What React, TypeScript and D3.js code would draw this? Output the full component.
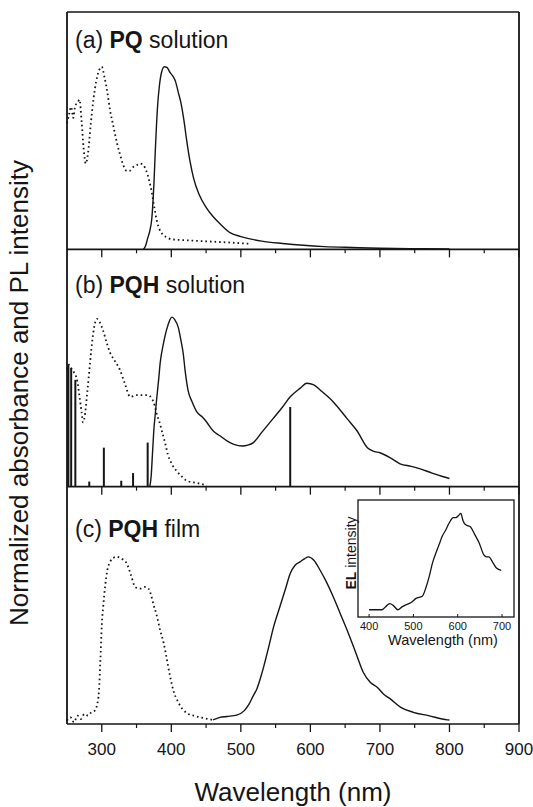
import React from "react";
import * as d3 from "d3";

type Pt = [number, number];

// ---------- data ----------
const X_DOMAIN: [number, number] = [250, 900];
const X_MAJOR = [300, 400, 500, 600, 700, 800, 900];
const X_MINOR = [350, 450, 550, 650, 750, 850];

const PANEL_LABELS: [string, string, string][] = [
  ["(a) ", "PQ", " solution"],
  ["(b) ", "PQH", " solution"],
  ["(c) ", "PQH", " film"],
];
const PANEL_YMAX = [1.3, 1.4, 1.42];

// (a) PQ solution – absorption (dotted) and PL (solid)
const absA: Pt[] = [
  [250, 0.69], [253, 0.74], [256, 0.78], [259, 0.72], [262, 0.79], [265, 0.8], [268, 0.82],
  [271, 0.7], [274, 0.55], [277, 0.47], [280, 0.52], [284, 0.68], [288, 0.82], [292, 0.92],
  [296, 0.98], [300, 1.0], [304, 0.94], [308, 0.86], [312, 0.76], [317, 0.67], [322, 0.58],
  [327, 0.51], [331, 0.46], [336, 0.43], [340, 0.43], [345, 0.45], [350, 0.46], [355, 0.47],
  [360, 0.46], [364, 0.43], [368, 0.38], [372, 0.31], [376, 0.22], [379, 0.16], [383, 0.11],
  [388, 0.08], [394, 0.065], [400, 0.055], [420, 0.05], [450, 0.044], [480, 0.038], [515, 0.03],
];
const plA: Pt[] = [
  [360, 0.0], [363, 0.02], [366, 0.06], [369, 0.1], [372, 0.17], [375, 0.36], [377, 0.54],
  [380, 0.77], [383, 0.9], [386, 0.97], [390, 1.0], [394, 0.995], [398, 0.97], [402, 0.95],
  [406, 0.92], [410, 0.86], [414, 0.8], [418, 0.71], [422, 0.6], [427, 0.48], [432, 0.39],
  [440, 0.3], [450, 0.23], [460, 0.18], [470, 0.14], [485, 0.09], [500, 0.07], [530, 0.045],
  [560, 0.032], [590, 0.022], [620, 0.015], [660, 0.01], [700, 0.006], [760, 0.003], [800, 0.002],
];

// (b) PQH solution
const absB: Pt[] = [
  [250, 0.69], [253, 0.72], [256, 0.7], [259, 0.68], [262, 0.66], [265, 0.62], [268, 0.53],
  [271, 0.44], [273, 0.38], [276, 0.43], [279, 0.55], [282, 0.68], [285, 0.81], [289, 0.94],
  [293, 0.99], [297, 0.97], [302, 0.92], [307, 0.85], [312, 0.79], [319, 0.74], [326, 0.69],
  [333, 0.61], [341, 0.53], [350, 0.54], [359, 0.54], [366, 0.54], [372, 0.52], [376, 0.48],
  [379, 0.43], [383, 0.38], [387, 0.32], [391, 0.26], [395, 0.19], [400, 0.14], [408, 0.09],
  [415, 0.06], [422, 0.035], [432, 0.025], [441, 0.018], [451, 0.008],
];
const plB: Pt[] = [
  [369, 0.0], [371, 0.06], [373, 0.2], [375, 0.34], [377, 0.43], [379, 0.52], [382, 0.64],
  [384, 0.73], [388, 0.83], [391, 0.89], [395, 0.95], [398, 0.985], [401, 1.0], [405, 0.985],
  [410, 0.94], [414, 0.86], [417, 0.79], [420, 0.68], [424, 0.57], [430, 0.5], [437, 0.44],
  [445, 0.41], [451, 0.38], [460, 0.33], [470, 0.3], [480, 0.27], [490, 0.25], [502, 0.24],
  [510, 0.245], [518, 0.26], [530, 0.32], [546, 0.4], [560, 0.47], [571, 0.53], [585, 0.58],
  [595, 0.61], [605, 0.6], [614, 0.57], [633, 0.5], [653, 0.4], [667, 0.33], [682, 0.23],
  [690, 0.21], [700, 0.2], [715, 0.17], [729, 0.135], [745, 0.12], [758, 0.105], [775, 0.08],
  [790, 0.06], [800, 0.048],
];
// calculated transitions (vertical sticks)
const sticksB: Pt[] = [
  [252, 0.72], [256, 0.7], [262, 0.63], [282, 0.03], [303, 0.23], [328, 0.035],
  [345, 0.08], [366, 0.26], [571, 0.47],
];

// (c) PQH film
const absC: Pt[] = [
  [250, 0.02], [255, 0.04], [260, 0.01], [265, 0.05], [270, 0.03], [275, 0.06], [280, 0.05],
  [285, 0.07], [290, 0.08], [293, 0.11], [296, 0.2], [298, 0.38], [300, 0.59], [302, 0.7],
  [305, 0.83], [308, 0.92], [312, 0.97], [317, 0.995], [322, 1.0], [328, 0.99], [336, 0.96],
  [342, 0.89], [348, 0.82], [355, 0.81], [362, 0.82], [367, 0.81], [371, 0.77], [374, 0.72],
  [379, 0.65], [384, 0.56], [389, 0.485], [393, 0.4], [398, 0.29], [403, 0.2], [410, 0.13],
  [422, 0.066], [434, 0.048], [446, 0.036], [460, 0.024],
];
const plC: Pt[] = [
  [460, 0.025], [470, 0.04], [480, 0.045], [495, 0.055], [505, 0.08], [512, 0.12], [518, 0.17],
  [523, 0.21], [530, 0.3], [540, 0.46], [547, 0.58], [556, 0.7], [565, 0.82], [571, 0.9],
  [578, 0.95], [585, 0.97], [592, 0.99], [597, 1.0], [605, 0.98], [614, 0.92], [623, 0.85],
  [633, 0.76], [643, 0.66], [653, 0.56], [665, 0.43], [676, 0.31], [686, 0.25], [696, 0.22],
  [705, 0.18], [715, 0.15], [730, 0.1], [748, 0.07], [770, 0.05], [797, 0.025], [800, 0.024],
];

// inset: EL spectrum
const INSET_X_DOMAIN: [number, number] = [375, 727];
const INSET_TICKS = [400, 500, 600, 700];
const elSpec: Pt[] = [
  [400, 0.07], [415, 0.07], [429, 0.07], [440, 0.11], [447, 0.13], [455, 0.11], [465, 0.07],
  [475, 0.1], [484, 0.12], [495, 0.14], [506, 0.18], [520, 0.2], [528, 0.28], [535, 0.38],
  [543, 0.52], [551, 0.62], [558, 0.7], [565, 0.78], [573, 0.84], [581, 0.91], [590, 0.96],
  [596, 0.96], [602, 0.98], [607, 1.0], [612, 0.93], [618, 0.89], [624, 0.88], [629, 0.87],
  [638, 0.8], [648, 0.72], [659, 0.6], [665, 0.58], [670, 0.58], [680, 0.52], [688, 0.47],
  [698, 0.45],
];

// ---------- layout ----------
const W = 533;
const H = 807;
const L = 67, R = 519, T = 12, B = 724;
const PH = (B - T) / 3;
const LABEL_OFFSETS = [36, 44, 50];
const FONT = "'Liberation Sans', Arial, sans-serif";
const INK = "#151515";

const panels = [
  { abs: absA, pl: plA, sticks: [] as Pt[] },
  { abs: absB, pl: plB, sticks: sticksB },
  { abs: absC, pl: plC, sticks: [] as Pt[] },
];

export default function App() {
  const x = d3.scaleLinear().domain(X_DOMAIN).range([L, R]);

  const inset = { l: 358, r: 514, t: 500, b: 617 };
  const ix = d3.scaleLinear().domain(INSET_X_DOMAIN).range([inset.l, inset.r]);
  const iy = d3.scaleLinear().domain([0, 1.13]).range([inset.b, inset.t]);
  const iline = d3
    .line<Pt>()
    .x((d) => ix(d[0]))
    .y((d) => iy(d[1]))
    .curve(d3.curveMonotoneX);

  return (
    <svg width={W} height={H} style={{ display: "block", position: "absolute", left: 0, top: 0 }}>
      <rect x={0} y={0} width={W} height={H} fill="#fff" />
      {panels.map((p, i) => {
        const top = T + i * PH;
        const bottom = top + PH;
        const y = d3.scaleLinear().domain([0, PANEL_YMAX[i]]).range([bottom, top]);
        const line = d3
          .line<Pt>()
          .x((d) => x(d[0]))
          .y((d) => y(d[1]))
          .curve(d3.curveMonotoneX);
        const lab = PANEL_LABELS[i];
        return (
          <g key={i}>
            <path d={line(p.abs) || ""} fill="none" stroke={INK} strokeWidth={1.8}
              strokeDasharray="1.6 3" />
            <path d={line(p.pl) || ""} fill="none" stroke={INK} strokeWidth={1.4} />
            {p.sticks.map((s, j) => (
              <line key={j} x1={x(s[0])} x2={x(s[0])} y1={y(0)} y2={y(s[1])}
                stroke={INK} strokeWidth={2} />
            ))}
            <text x={75} y={top + LABEL_OFFSETS[i]} fontFamily={FONT} fontSize={23} fill={INK}>
              {lab[0]}
              <tspan fontWeight="bold">{lab[1]}</tspan>
              {lab[2]}
            </text>
            {/* bottom axis of panel */}
            <line x1={L} x2={R} y1={bottom} y2={bottom} stroke={INK} strokeWidth={1.6} />
            {X_MAJOR.map((t) => (
              <line key={"M" + t} x1={x(t)} x2={x(t)} y1={bottom} y2={bottom + 8}
                stroke={INK} strokeWidth={1.3} />
            ))}
            {X_MINOR.map((t) => (
              <line key={"m" + t} x1={x(t)} x2={x(t)} y1={bottom} y2={bottom + 4}
                stroke={INK} strokeWidth={1.2} />
            ))}
          </g>
        );
      })}

      {/* frame */}
      <line x1={L} x2={R} y1={T} y2={T} stroke={INK} strokeWidth={1.6} />
      <line x1={L} x2={L} y1={T} y2={B} stroke={INK} strokeWidth={1.8} />
      <line x1={R} x2={R} y1={T} y2={B} stroke={INK} strokeWidth={1.8} />

      {/* x tick labels */}
      {X_MAJOR.map((t) => (
        <text key={t} x={x(t)} y={755} textAnchor="middle" fontFamily={FONT} fontSize={17} fill={INK}>
          {t}
        </text>
      ))}
      <text x={293} y={801} textAnchor="middle" fontFamily={FONT} fontSize={26} fill={INK}>
        Wavelength (nm)
      </text>
      <text transform={`translate(28, ${(T + B) / 2 + 25}) rotate(-90)`} textAnchor="middle"
        fontFamily={FONT} fontSize={26} fill={INK}>
        Normalized absorbance and PL intensity
      </text>

      {/* inset */}
      <rect x={inset.l} y={inset.t} width={inset.r - inset.l} height={inset.b - inset.t}
        fill="#fff" stroke={INK} strokeWidth={1.3} />
      <path d={iline(elSpec) || ""} fill="none" stroke={INK} strokeWidth={1.3} />
      {INSET_TICKS.map((t) => (
        <g key={t}>
          <line x1={ix(t)} x2={ix(t)} y1={inset.b} y2={inset.b - 3} stroke={INK} strokeWidth={1} />
          <text x={ix(t)} y={630} textAnchor="middle" fontFamily={FONT} fontSize={11} fill={INK}>
            {t}
          </text>
        </g>
      ))}
      <text x={443} y={645} textAnchor="middle" fontFamily={FONT} fontSize={14.5} fill={INK}>
        Wavelength (nm)
      </text>
      <text transform={`translate(356, 553) rotate(-90)`} textAnchor="middle" fontFamily={FONT}
        fontSize={14} fill={INK}>
        <tspan fontWeight="bold">EL</tspan> intensity
      </text>
    </svg>
  );
}
